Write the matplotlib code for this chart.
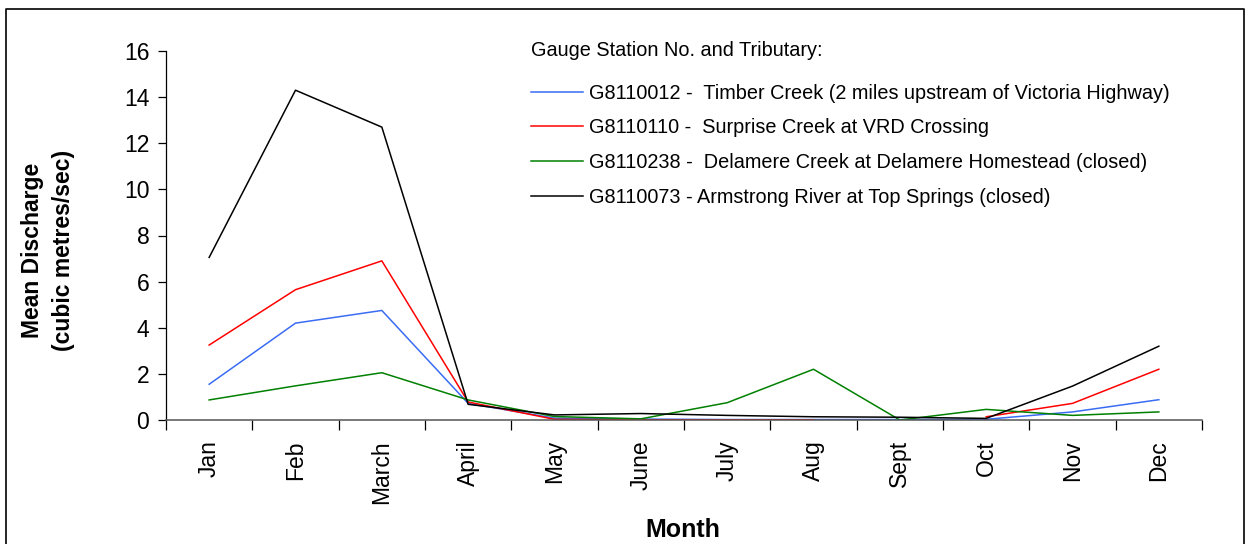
import numpy as np
import matplotlib.pyplot as plt
from matplotlib.lines import Line2D

plt.rcParams['font.family'] = ['Liberation Sans', 'DejaVu Sans']

months = ["Jan", "Feb", "March", "April", "May", "June", "July", "Aug",
          "Sept", "Oct", "Nov", "Dec"]

# mean discharge (cubic metres/sec) per gauge station
timber = [1.55, 4.2, 4.75, 0.72, 0.08, 0.04, 0.02, 0.02, 0.02, 0.03, 0.35, 0.88]
surprise = [3.25, 5.65, 6.9, 0.78, 0.03, 0.01, 0.01, 0.01, np.nan, 0.14, 0.72, 2.2]
delamere = [0.87, 1.48, 2.05, 0.87, 0.15, 0.05, 0.75, 2.2, 0.0, 0.46, 0.2, 0.35]
armstrong = [7.05, 14.3, 12.7, 0.68, 0.22, 0.28, 0.2, 0.14, 0.12, 0.07, 1.47, 3.2]

labels = ["G8110012 -  Timber Creek (2 miles upstream of Victoria Highway)",
          "G8110110 -  Surprise Creek at VRD Crossing",
          "G8110238 -  Delamere Creek at Delamere Homestead (closed)",
          "G8110073 - Armstrong River at Top Springs (closed)"]
colors = ["#3a6cf4", "#ff0000", "#008000", "#000000"]

fig = plt.figure(figsize=(12.46, 5.44), dpi=100)
ax = fig.add_axes([166 / 1246, 124 / 544, (1202 - 166) / 1246, (420 - 51) / 544])

x = np.arange(len(months))
series = [timber, surprise, delamere, armstrong]
for vals, c, lab in zip(series, colors, labels):
    ax.plot(x, vals, color=c, lw=1.1, label=lab)

ax.set_xlim(-0.5, 11.5)
ax.set_ylim(0, 16)
ax.set_yticks(range(0, 17, 2))
ax.tick_params(axis='y', labelsize=16.5, length=6, width=0.9, direction='out', pad=6)

ax.set_xticks(np.arange(-0.5, 12, 1))
ax.set_xticklabels([])
ax.tick_params(axis='x', which='major', length=7, width=0.9, direction='out')
ax.set_xticks(x, minor=True)
ax.set_xticklabels(months, minor=True, rotation=90, fontsize=16.5)
ax.tick_params(axis='x', which='minor', length=0, pad=14.5)

ax.spines['top'].set_visible(False)
ax.spines['right'].set_visible(False)
ax.spines['left'].set_linewidth(0.9)
ax.spines['bottom'].set_color('#555555')
ax.spines['bottom'].set_linewidth(1.1)

fig.text(683 / 1246, 1 - 530 / 544, "Month", ha='center', va='center',
         fontsize=18, fontweight='bold')
fig.text(48 / 1246, 1 - 250 / 544, "Mean Discharge\n(cubic metres/sec)",
         ha='center', va='center', rotation=90, fontsize=16.5,
         fontweight='bold', linespacing=1.45)

leg = ax.legend(loc='upper left', bbox_to_anchor=(523 / 1246, 1 - 33 / 544),
                bbox_transform=fig.transFigure, frameon=False,
                title="Gauge Station No. and Tributary:", alignment='left',
                title_fontsize=14.3, fontsize=14.3, handlelength=2.6,
                handletextpad=0.3, labelspacing=0.8, borderaxespad=0)
leg._legend_box.sep = 17

# outer frame of the chart area
fig.add_artist(Line2D([6 / 1246, 6 / 1246, 1244 / 1246, 1244 / 1246],
                      [0, 1 - 9 / 544, 1 - 9 / 544, 0],
                      transform=fig.transFigure, color='black', lw=1.2))

fig.savefig("out.png", dpi=100)
